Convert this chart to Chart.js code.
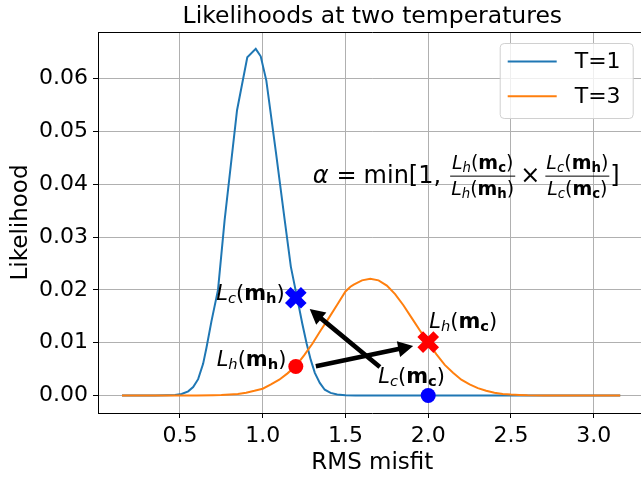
<!DOCTYPE html>
<html>
<head>
<meta charset="utf-8">
<script src="https://cdn.jsdelivr.net/npm/chart.js@4.4.0/dist/chart.umd.min.js"></script>
<style>
  html, body { margin: 0; padding: 0; overflow: hidden; background: #fff; }
  #wrap { width: 666px; height: 479px; }
  canvas { display: block; }
</style>
</head>
<body>
<div id="wrap"><canvas id="chart" width="666" height="479"></canvas></div>
<script>
// T=1 curve (blue)
const blueX = [0.15, 0.35, 0.42, 0.47, 0.51, 0.55, 0.58, 0.61, 0.64, 0.66, 0.69, 0.73, 0.77, 0.845, 0.907, 0.958, 0.988, 1.022, 1.08, 1.133, 1.17, 1.21, 1.24, 1.265, 1.29, 1.315, 1.345, 1.375, 1.41, 1.45, 1.50, 1.56, 1.65, 2.0, 2.5, 3.16];
const blueY = [0, 0, 0.00005, 0.0001, 0.0003, 0.0008, 0.0016, 0.0031, 0.0060, 0.0090, 0.0140, 0.0200, 0.0332, 0.0540, 0.0640, 0.0656, 0.0642, 0.0596, 0.0460, 0.0332, 0.0244, 0.0182, 0.0135, 0.0099, 0.0068, 0.0043, 0.0024, 0.0011, 0.0005, 0.0002, 0.00008, 0.00002, 0, 0, 0, 0];

// T=3 curve (orange)
const orangeX = [0.15, 0.5, 0.6, 0.7, 0.75, 0.8, 0.85, 0.9, 0.95, 1.0, 1.05, 1.1, 1.15, 1.2, 1.25, 1.3, 1.35, 1.4, 1.45, 1.5, 1.53, 1.55, 1.6, 1.65, 1.7, 1.75, 1.8, 1.85, 1.9, 1.95, 2.0, 2.05, 2.1, 2.15, 2.2, 2.25, 2.3, 2.35, 2.4, 2.45, 2.5, 2.55, 2.6, 2.7, 2.85, 3.16];
const orangeY = [0, 0.00001, 0.00003, 0.00006, 0.0001, 0.0002, 0.0003, 0.00055, 0.0009, 0.0013, 0.0021, 0.0030, 0.0042, 0.0056, 0.0076, 0.0098, 0.0123, 0.0147, 0.0172, 0.0197, 0.0206, 0.0210, 0.0218, 0.0221, 0.0218, 0.0208, 0.0192, 0.0171, 0.0147, 0.0123, 0.0100, 0.0078, 0.0058, 0.0043, 0.0030, 0.0021, 0.0014, 0.0009, 0.00055, 0.0003, 0.00018, 0.0001, 0.00005, 0.00002, 0, 0];

const seriesLabels = ['T=1', 'T=3'];

// markers: circles (L_h(m_h), L_c(m_c)), crosses (L_c(m_h), L_h(m_c))
const circleX = [1.2, 2.0];
const circleY = [0.0055, 0.0];
const crossX = [1.2, 2.0];
const crossY = [0.0185, 0.0101];

// arrows [x, y] in data units
const arrowFrom = [[1.321, 0.00553], [1.708, 0.00542]];
const arrowTo = [[1.909, 0.00938], [1.284, 0.01636]];

// annotation labels L_sub1(m_sub2)
const labelSubs = [['c', 'h'], ['h', 'h'], ['h', 'c'], ['c', 'c']];
const labelX = [1.133, 1.143, 2.006, 1.698];
const labelY = [0.0181, 0.0055, 0.0128, 0.0024];
const labelAlign = ['right', 'right', 'left', 'left'];

const formulaPos = [1.302, 0.0402];

const xTicks = [0.5, 1.0, 1.5, 2.0, 2.5, 3.0];
const yTicks = [0.00, 0.01, 0.02, 0.03, 0.04, 0.05, 0.06];

const FONT = '"DejaVu Sans", sans-serif';
const fnt = (style, size) => `${style} ${size}px ${FONT}`;

function mathLabel(sub1, sub2, size) {
  const s = size * 0.7, dy = size * 0.14;
  return [
    { t: 'L', f: fnt('italic', size), dy: 0 },
    { t: sub1, f: fnt('italic', s), dy: dy },
    { t: '(', f: fnt('normal', size), dy: 0 },
    { t: 'm', f: fnt('bold', size), dy: 0 },
    { t: sub2, f: fnt('bold', s), dy: dy },
    { t: ')', f: fnt('normal', size), dy: 0 }
  ];
}
function segWidth(ctx, segs) {
  let w = 0;
  for (const s of segs) { ctx.font = s.f; w += ctx.measureText(s.t).width; }
  return w;
}
function drawSegs(ctx, segs, x, y) {
  ctx.textAlign = 'left';
  ctx.textBaseline = 'alphabetic';
  for (const s of segs) {
    ctx.font = s.f;
    ctx.fillText(s.t, x, y + s.dy);
    x += ctx.measureText(s.t).width;
  }
  return x;
}
function drawText(ctx, t, f, x, y) {
  ctx.font = f;
  ctx.textAlign = 'left';
  ctx.textBaseline = 'alphabetic';
  ctx.fillText(t, x, y);
  return x + ctx.measureText(t).width;
}
function drawFrac(ctx, num, den, x, yb) {
  const wn = segWidth(ctx, num), wd = segWidth(ctx, den);
  const w = Math.max(wn, wd) + 2;
  ctx.fillRect(x, yb - 7.5, w, 1);
  drawSegs(ctx, num, x + (w - wn) / 2, yb - 14);
  drawSegs(ctx, den, x + (w - wd) / 2, yb + 12);
  return x + w;
}
function drawArrow(ctx, x0, y0, x1, y1) {
  const ang = Math.atan2(y1 - y0, x1 - x0);
  const headL = 15, headW = 8, shaft = 2.3;
  const len = Math.hypot(x1 - x0, y1 - y0);
  ctx.save();
  ctx.translate(x0, y0);
  ctx.rotate(ang);
  ctx.beginPath();
  ctx.moveTo(0, -shaft);
  ctx.lineTo(len - headL, -shaft);
  ctx.lineTo(len - headL, -headW);
  ctx.lineTo(len, 0);
  ctx.lineTo(len - headL, headW);
  ctx.lineTo(len - headL, shaft);
  ctx.lineTo(0, shaft);
  ctx.closePath();
  ctx.fillStyle = '#000';
  ctx.fill();
  ctx.restore();
}

const decorations = {
  id: 'decorations',
  afterDatasetsDraw(chart) {
    const ctx = chart.ctx, xs = chart.scales.x, ys = chart.scales.y;
    ctx.save();
    // arrows
    for (let i = 0; i < arrowFrom.length; i++) {
      drawArrow(ctx, xs.getPixelForValue(arrowFrom[i][0]), ys.getPixelForValue(arrowFrom[i][1]),
        xs.getPixelForValue(arrowTo[i][0]), ys.getPixelForValue(arrowTo[i][1]));
    }
    // labels
    ctx.fillStyle = '#000';
    for (let i = 0; i < labelSubs.length; i++) {
      const segs = mathLabel(labelSubs[i][0], labelSubs[i][1], 21);
      let px = xs.getPixelForValue(labelX[i]);
      if (labelAlign[i] === 'right') px -= segWidth(ctx, segs);
      drawSegs(ctx, segs, px, ys.getPixelForValue(labelY[i]));
    }
    // acceptance formula
    let fx = xs.getPixelForValue(formulaPos[0]);
    const fy = ys.getPixelForValue(formulaPos[1]);
    const main = 24, fs = 19;
    fx = drawText(ctx, 'α', fnt('italic', main), fx, fy) + 8;
    fx = drawText(ctx, '=', fnt('normal', main), fx, fy) + 7;
    fx = drawText(ctx, 'min[1,', fnt('normal', main), fx, fy) + 9;
    fx = drawFrac(ctx, mathLabel('h', 'c', fs), mathLabel('h', 'h', fs), fx, fy) + 5;
    fx = drawText(ctx, '×', fnt('normal', main), fx, fy) + 5;
    fx = drawFrac(ctx, mathLabel('c', 'h', fs), mathLabel('c', 'c', fs), fx, fy) + 1;
    drawText(ctx, ']', fnt('normal', main), fx, fy);
    ctx.restore();
  },
  afterDraw(chart) {
    const ctx = chart.ctx, a = chart.chartArea;
    ctx.save();
    // top spine
    ctx.strokeStyle = '#000';
    ctx.lineWidth = 1;
    ctx.beginPath();
    ctx.moveTo(a.left, Math.round(a.top) + 0.5);
    ctx.lineTo(a.right, Math.round(a.top) + 0.5);
    ctx.stroke();
    // title
    ctx.fillStyle = '#000';
    ctx.font = fnt('normal', 23.5);
    ctx.textAlign = 'center';
    ctx.textBaseline = 'alphabetic';
    ctx.fillText('Likelihoods at two temperatures', (a.left + a.right) / 2, 23);
    // axis titles
    ctx.font = fnt('normal', 23);
    ctx.fillText('RMS misfit', (a.left + a.right) / 2, 469);
    ctx.save();
    ctx.translate(27, (a.top + a.bottom) / 2);
    ctx.rotate(-Math.PI / 2);
    ctx.fillText('Likelihood', 0, 0);
    ctx.restore();
    // legend
    const lx = a.right - 147, ly = a.top + 11, lw = 133, lh = 75;
    ctx.beginPath();
    ctx.roundRect(lx + 0.5, ly + 0.5, lw, lh, 4);
    ctx.fillStyle = 'rgba(255,255,255,0.8)';
    ctx.fill();
    ctx.strokeStyle = '#d0d0d0';
    ctx.stroke();
    chart.data.datasets.slice(0, 2).forEach((ds, i) => {
      const yy = ly + 18.5 + i * 34.7;
      ctx.strokeStyle = ds.borderColor;
      ctx.lineWidth = 2;
      ctx.beginPath();
      ctx.moveTo(lx + 8, yy);
      ctx.lineTo(lx + 57, yy);
      ctx.stroke();
      ctx.fillStyle = '#000';
      ctx.font = fnt('normal', 22);
      ctx.textAlign = 'left';
      ctx.textBaseline = 'middle';
      ctx.fillText(ds.label, lx + 75, yy + 1);
    });
    ctx.restore();
  }
};

const toPts = (xv, yv) => xv.map((x, i) => ({ x: x, y: yv[i] }));

new Chart(document.getElementById('chart'), {
  type: 'scatter',
  data: {
    datasets: [
      { label: seriesLabels[0], data: toPts(blueX, blueY), showLine: true, borderColor: '#1f77b4',
        borderWidth: 2, pointRadius: 0, tension: 0, order: 3 },
      { label: seriesLabels[1], data: toPts(orangeX, orangeY), showLine: true, borderColor: '#ff7f0e',
        borderWidth: 2, pointRadius: 0, tension: 0, order: 2 },
      { label: 'circles', data: toPts(circleX, circleY), pointStyle: 'circle', pointRadius: 7.5,
        backgroundColor: ['#ff0000', '#0000ff'], borderWidth: 0, order: 1 },
      { label: 'crosses', data: toPts(crossX, crossY), pointStyle: 'crossRot', pointRadius: 11.3,
        borderColor: ['#0000ff', '#ff0000'], pointBorderWidth: 8, borderWidth: 8, order: 0 }
    ]
  },
  options: {
    responsive: false,
    animation: false,
    events: [],
    layout: { padding: { top: 32, right: 3, left: 0, bottom: 0 } },
    plugins: { legend: { display: false }, tooltip: { enabled: false }, title: { display: false } },
    scales: {
      x: {
        type: 'linear', min: 0.005, max: 3.32,
        afterBuildTicks: s => { s.ticks = xTicks.map(v => ({ value: v })); },
        afterFit: s => { s.height = 66; },
        ticks: { callback: v => v.toFixed(1), color: '#000', font: { family: 'DejaVu Sans', size: 22 }, padding: 5, maxRotation: 0 },
        grid: { color: '#b0b0b0', lineWidth: 1, tickLength: 5, tickColor: '#000', tickWidth: 1 },
        border: { display: true, color: '#000', width: 1 }
      },
      y: {
        type: 'linear', min: -0.0033, max: 0.0688,
        afterBuildTicks: s => { s.ticks = yTicks.map(v => ({ value: v })); },
        afterFit: s => { s.width = 98; },
        ticks: { callback: v => v.toFixed(2), color: '#000', font: { family: 'DejaVu Sans', size: 22 }, padding: 5 },
        grid: { color: '#b0b0b0', lineWidth: 1, tickLength: 5, tickColor: '#000', tickWidth: 1 },
        border: { display: true, color: '#000', width: 1 }
      }
    }
  },
  plugins: [decorations]
});
</script>
</body>
</html>
